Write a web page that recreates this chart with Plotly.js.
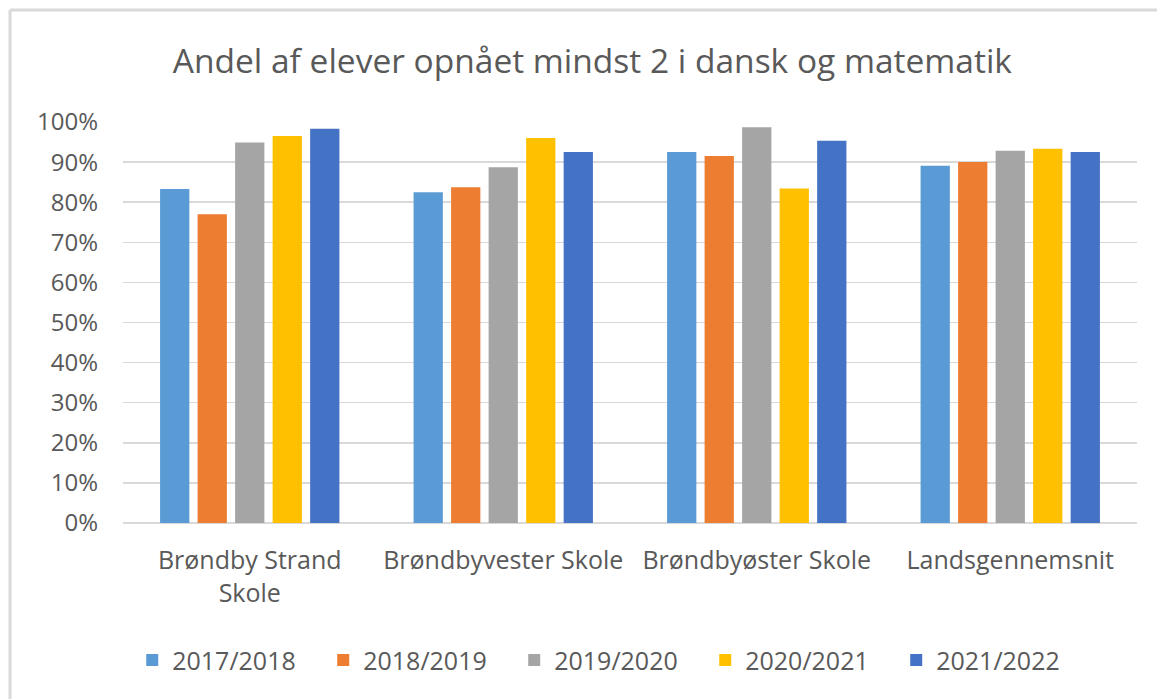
<!DOCTYPE html>
<html>
<head>
<meta charset="utf-8">
<script src="https://cdn.plot.ly/plotly-3.0.1.min.js"></script>
<style>html,body{margin:0;padding:0;background:#fff;}#chart{width:1157px;height:699px;}</style>
</head>
<body>
<div id="chart"></div>
<script>
var categories = ["Brøndby Strand<br>Skole", "Brøndbyvester Skole", "Brøndbyøster Skole", "Landsgennemsnit"];
var seriesNames = ["2017/2018", "2018/2019", "2019/2020", "2020/2021", "2021/2022"];
var s2017 = [0.833, 0.825, 0.925, 0.891];
var s2018 = [0.770, 0.837, 0.915, 0.900];
var s2019 = [0.949, 0.887, 0.987, 0.928];
var s2020 = [0.965, 0.960, 0.834, 0.933];
var s2021 = [0.983, 0.925, 0.953, 0.925];
var colors = ["#5b9bd5", "#ed7d31", "#a5a5a5", "#ffc000", "#4472c4"];
var seriesValues = [s2017, s2018, s2019, s2020, s2021];

var fontFam = "Open Sans, Noto Sans, sans-serif";
var traces = seriesNames.map(function(n, i){
  return {type:"bar", name:n, x:categories, y:seriesValues[i], marker:{color:colors[i]}, hoverinfo:"none"};
});

var layout = {
  width:1157, height:699,
  margin:{l:123, r:20, t:122, b:176},
  paper_bgcolor:"#fff", plot_bgcolor:"#fff",
  barmode:"group", bargap:0.26, bargroupgap:0.22,
  title:{text:"Andel af elever opnået mindst 2 i dansk og matematik", font:{family:fontFam, size:33.5, color:"#595959"}, x:0.512, xanchor:"center", y:0.912, yanchor:"middle"},
  xaxis:{type:"category", automargin:false, showgrid:false, zeroline:false, showline:false, ticks:"", tickfont:{family:fontFam, size:25, color:"#595959"}, ticklabelstandoff:20},
  yaxis:{range:[0,1.0], automargin:false, tickvals:[0,0.1,0.2,0.3,0.4,0.5,0.6,0.7,0.8,0.9,1.0], tickformat:".0%", showgrid:true, gridcolor:"#d9d9d9", gridwidth:1.5, zeroline:true, zerolinecolor:"#d9d9d9", zerolinewidth:1.5, tickfont:{family:fontFam, size:24, color:"#595959"}, ticklabelstandoff:24},
  showlegend:true,
  legend:{orientation:"h", x:0.48, xanchor:"center", y:-0.342, yanchor:"middle", font:{family:fontFam, size:25, color:"#595959"}, itemwidth:30, entrywidth:146, entrywidthmode:"pixels", tracegroupgap:0},
  shapes:[
    {type:"line", xref:"paper", yref:"paper", x0:-0.1114, x1:1.03, y0:1.2793, y1:1.2793, line:{color:"#d9d9d9", width:3}},
    {type:"line", xref:"paper", yref:"paper", x0:-0.1114, x1:-0.1114, y0:1.2793, y1:-0.44, line:{color:"#d9d9d9", width:3}}
  ]
};
Plotly.newPlot("chart", traces, layout, {displayModeBar:false, staticPlot:true});
</script>
</body>
</html>
